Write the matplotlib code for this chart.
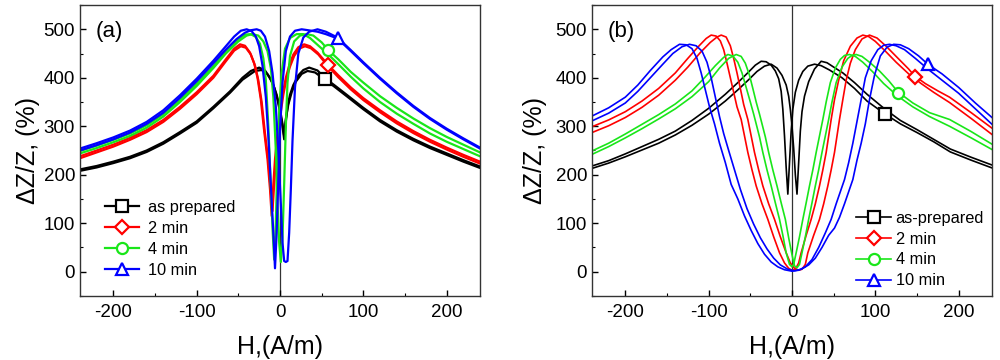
import matplotlib.pyplot as plt
from matplotlib.lines import Line2D
from matplotlib.ticker import MultipleLocator

plt.rcParams['font.family'] = ['Liberation Sans', 'DejaVu Sans']
plt.rcParams['axes.unicode_minus'] = False

# ---- data: (H [A/m], dZ/Z [%]) ----
labels_a = ['as prepared', '2 min', '4 min', '10 min']
labels_b = ['as-prepared', '2 min', '4 min', '10 min']

# panel (a): two sweep branches per annealing time
a_black_1 = [(-240, 211), (-220, 218), (-200, 227), (-180, 237), (-160, 250), (-140, 267), (-120, 288),
             (-100, 310), (-80, 340), (-60, 372), (-45, 400), (-35, 414), (-25, 421), (-18, 415),
             (-12, 400), (-7, 380), (-3, 355), (0, 330), (3, 300), (5, 273), (7, 310), (9, 340),
             (12, 365), (16, 385), (22, 405), (28, 416), (35, 421), (45, 415), (54, 399), (65, 385),
             (80, 365), (100, 338), (120, 313), (140, 292), (160, 274), (180, 258), (200, 244),
             (220, 230), (240, 217)]
a_black_2 = [(-240, 208), (-220, 215), (-200, 224), (-180, 234), (-160, 247), (-140, 264), (-120, 285),
             (-100, 307), (-80, 337), (-60, 369), (-45, 396), (-30, 414), (-22, 416), (-15, 407),
             (-9, 390), (-4, 365), (0, 335), (3, 305), (5, 280), (7, 315), (10, 345), (14, 370),
             (19, 392), (26, 408), (33, 414), (42, 411), (54, 396), (65, 382), (80, 362), (100, 335),
             (120, 310), (140, 289), (160, 271), (180, 255), (200, 241), (220, 227), (240, 214)]
a_red_1 = [(-240, 238), (-220, 250), (-200, 262), (-180, 276), (-160, 292), (-140, 313), (-120, 340),
           (-100, 370), (-80, 404), (-65, 438), (-55, 460), (-48, 469), (-42, 466), (-36, 452),
           (-31, 430), (-27, 400), (-23, 355), (-19, 290), (-15, 232), (-12, 170), (-10, 115),
           (-8, 180), (-6, 232), (-3, 285), (0, 330), (3, 365), (7, 400), (11, 425), (16, 448),
           (22, 463), (29, 469), (36, 465), (45, 452), (57, 428), (70, 405), (85, 380), (100, 358),
           (120, 333), (140, 310), (160, 290), (180, 272), (200, 256), (220, 241), (240, 227)]
a_red_2 = [(-240, 234), (-220, 246), (-200, 258), (-180, 272), (-160, 288), (-140, 309), (-120, 336),
           (-100, 366), (-80, 400), (-65, 434), (-55, 456), (-47, 465), (-41, 462), (-35, 448),
           (-30, 425), (-26, 395), (-22, 350), (-18, 285), (-14, 228), (-11, 165), (-9, 125),
           (-7, 180), (-5, 232), (-2, 285), (1, 330), (4, 365), (8, 400), (12, 423), (17, 445),
           (23, 460), (30, 465), (37, 461), (46, 448), (57, 425), (70, 401), (85, 376), (100, 354),
           (120, 329), (140, 306), (160, 286), (180, 268), (200, 252), (220, 237), (240, 223)]
a_green_1 = [(-240, 249), (-220, 260), (-200, 272), (-180, 285), (-160, 302), (-140, 325), (-120, 355),
             (-100, 388), (-80, 424), (-65, 455), (-52, 477), (-42, 489), (-35, 490), (-29, 484),
             (-24, 470), (-20, 440), (-17, 395), (-14, 300), (-11, 176), (-9, 90), (-7, 25), (-5, 100),
             (-3, 230), (-1, 330), (2, 410), (6, 460), (12, 482), (20, 490), (28, 490), (36, 482),
             (45, 468), (58, 448), (70, 428), (85, 402), (100, 378), (120, 350), (140, 326),
             (160, 305), (180, 285), (200, 268), (220, 253), (240, 238)]
a_green_2 = [(-240, 244), (-220, 255), (-200, 267), (-180, 280), (-160, 297), (-140, 320), (-120, 350),
             (-100, 383), (-80, 420), (-65, 450), (-50, 475), (-40, 487), (-33, 490), (-26, 487),
             (-20, 475), (-15, 455), (-11, 420), (-8, 360), (-5, 250), (-3, 140), (-1, 60), (1, 20),
             (3, 70), (5, 180), (7, 300), (9, 390), (12, 445), (17, 475), (24, 487), (32, 490),
             (40, 487), (50, 473), (58, 457), (70, 438), (85, 412), (100, 390), (120, 362),
             (140, 338), (160, 316), (180, 296), (200, 278), (220, 262), (240, 246)]
a_blue_1 = [(-240, 254), (-220, 265), (-200, 277), (-180, 291), (-160, 309), (-140, 333), (-120, 364),
            (-100, 398), (-80, 435), (-65, 465), (-55, 485), (-47, 497), (-40, 500), (-34, 496),
            (-29, 485), (-25, 465), (-21, 425), (-17, 360), (-14, 280), (-11, 180), (-8, 80), (-6, 7),
            (-4, 80), (-2, 190), (0, 290), (3, 390), (7, 455), (12, 485), (18, 497), (26, 500),
            (34, 498), (45, 495), (55, 490), (69, 481), (85, 455), (100, 430), (120, 398), (140, 368),
            (160, 340), (180, 315), (200, 293), (220, 273), (240, 254)]
a_blue_2 = [(-240, 250), (-220, 261), (-200, 273), (-180, 287), (-160, 305), (-140, 328), (-120, 359),
            (-100, 393), (-80, 430), (-65, 458), (-52, 480), (-42, 493), (-35, 498), (-28, 500),
            (-23, 497), (-18, 485), (-13, 455), (-9, 410), (-5, 340), (-2, 250), (1, 140), (3, 60),
            (5, 22), (7, 20), (9, 22), (11, 80), (13, 170), (15, 270), (18, 380), (22, 450),
            (28, 483), (35, 495), (45, 500), (55, 495), (69, 483), (85, 457), (100, 432), (120, 400),
            (140, 370), (160, 342), (180, 317), (200, 295), (220, 275), (240, 256)]
a_marks = [(54, 397), (57, 427), (58, 457), (69, 483)]

# panel (b)
b_black_1 = [(-240, 218), (-220, 229), (-200, 243), (-180, 258), (-160, 273), (-140, 290), (-120, 312),
             (-100, 337), (-80, 366), (-65, 390), (-52, 412), (-44, 426), (-37, 434), (-31, 433),
             (-25, 426), (-20, 414), (-16, 398), (-13, 372), (-11, 335), (-9, 280), (-7, 215),
             (-5, 160), (-3, 225), (-1, 290), (1, 335), (4, 370), (8, 395), (13, 413), (19, 424),
             (27, 428), (35, 425), (45, 416), (60, 400), (75, 378), (90, 352), (111, 326), (130, 305),
             (150, 287), (170, 268), (190, 247), (215, 230), (240, 214)]
b_black_2 = [(-240, 213), (-220, 224), (-200, 237), (-180, 251), (-160, 265), (-140, 282), (-120, 302),
             (-100, 325), (-80, 352), (-65, 375), (-52, 396), (-42, 413), (-33, 424), (-25, 428),
             (-18, 420), (-12, 405), (-7, 385), (-4, 362), (-2, 335), (0, 300), (2, 255), (4, 200),
             (6, 160), (8, 225), (10, 290), (12, 330), (15, 362), (20, 392), (27, 418), (35, 434),
             (42, 431), (50, 422), (61, 410), (75, 390), (90, 366), (111, 336), (130, 312),
             (150, 293), (170, 273), (190, 253), (215, 236), (240, 220)]
b_red_1 = [(-240, 299), (-220, 313), (-200, 330), (-180, 352), (-160, 378), (-140, 410), (-125, 440),
           (-112, 465), (-103, 481), (-97, 488), (-91, 486), (-86, 476), (-82, 458), (-78, 430),
           (-74, 400), (-70, 370), (-66, 340), (-61, 314), (-57, 280), (-53, 246), (-48, 210),
           (-43, 177), (-36, 140), (-29, 108), (-22, 72), (-15, 39), (-9, 18), (-4, 7), (0, 3), (4, 5),
           (8, 18), (11, 39), (17, 75), (23, 108), (28, 140), (33, 177), (37, 210), (41, 246),
           (44, 280), (47, 314), (51, 355), (56, 395), (62, 435), (70, 465), (78, 482), (85, 488),
           (92, 485), (100, 475), (112, 455), (125, 432), (140, 408), (155, 388), (170, 370),
           (189, 349), (215, 316), (240, 283)]
b_red_2 = [(-240, 287), (-220, 301), (-200, 318), (-180, 339), (-160, 364), (-140, 395), (-125, 422),
           (-110, 452), (-98, 473), (-90, 484), (-85, 488), (-79, 484), (-74, 466), (-70, 440),
           (-66, 410), (-62, 378), (-58, 345), (-53, 314), (-49, 280), (-45, 246), (-40, 210),
           (-35, 177), (-28, 140), (-21, 108), (-14, 72), (-7, 39), (-2, 18), (3, 7), (8, 3), (12, 5),
           (16, 15), (19, 39), (26, 75), (33, 108), (38, 140), (43, 177), (47, 210), (51, 246),
           (54, 280), (57, 314), (61, 355), (65, 395), (70, 430), (76, 458), (84, 480), (93, 488),
           (102, 482), (113, 465), (125, 444), (140, 418), (147, 404), (160, 388), (175, 373),
           (189, 360), (215, 328), (240, 296)]
b_green_1 = [(-240, 249), (-220, 265), (-200, 284), (-180, 304), (-160, 324), (-140, 346), (-120, 373),
             (-105, 400), (-92, 425), (-82, 442), (-77, 448), (-71, 445), (-65, 432), (-60, 410),
             (-55, 380), (-50, 350), (-46, 325), (-43, 305), (-39, 278), (-35, 246), (-30, 210),
             (-25, 177), (-20, 142), (-15, 108), (-11, 75), (-7, 39), (-3, 15), (0, 10), (2, 15),
             (5, 39), (9, 72), (13, 108), (17, 142), (21, 177), (25, 210), (29, 246), (33, 280),
             (37, 314), (41, 350), (46, 390), (52, 420), (58, 438), (63, 446), (69, 448), (76, 444),
             (85, 432), (97, 412), (110, 388), (127, 362), (145, 340), (165, 320), (189, 300),
             (215, 276), (240, 252)]
b_green_2 = [(-240, 242), (-220, 258), (-200, 276), (-180, 295), (-160, 315), (-140, 336), (-120, 361),
             (-100, 392), (-87, 420), (-76, 440), (-67, 448), (-61, 444), (-56, 430), (-51, 405),
             (-47, 378), (-43, 350), (-39, 325), (-36, 305), (-32, 278), (-28, 246), (-23, 210),
             (-18, 177), (-13, 142), (-8, 108), (-4, 70), (0, 35), (3, 12), (6, 8), (9, 15), (12, 39),
             (16, 72), (20, 108), (24, 142), (28, 177), (32, 210), (36, 246), (40, 280), (44, 314),
             (48, 350), (53, 390), (60, 422), (67, 440), (72, 446), (77, 448), (84, 444), (93, 432),
             (105, 414), (116, 394), (127, 371), (145, 348), (165, 328), (189, 314), (215, 289),
             (240, 263)]
b_blue_1 = [(-240, 321), (-220, 338), (-200, 360), (-185, 385), (-170, 415), (-155, 443), (-145, 458),
            (-135, 469), (-127, 468), (-120, 460), (-114, 440), (-109, 410), (-104, 375), (-99, 340),
            (-93, 305), (-87, 265), (-80, 225), (-73, 180), (-65, 150), (-57, 115), (-49, 85),
            (-41, 58), (-33, 36), (-25, 20), (-17, 10), (-9, 4), (0, 1), (8, 3), (16, 10), (24, 25),
            (32, 50), (40, 80), (47, 108), (53, 140), (58, 165), (63, 190), (68, 225), (73, 265),
            (78, 310), (83, 355), (88, 400), (95, 435), (103, 458), (110, 467), (117, 469),
            (125, 466), (135, 458), (148, 440), (163, 418), (180, 395), (200, 368), (220, 336),
            (240, 304)]
b_blue_2 = [(-240, 311), (-220, 327), (-200, 348), (-185, 372), (-170, 400), (-155, 428), (-143, 450),
            (-132, 464), (-123, 469), (-115, 466), (-108, 455), (-102, 432), (-97, 400), (-92, 360),
            (-87, 320), (-82, 285), (-76, 250), (-69, 210), (-62, 170), (-54, 130), (-46, 98),
            (-38, 70), (-30, 47), (-22, 28), (-14, 14), (-5, 5), (3, 2), (11, 5), (20, 14), (28, 28),
            (36, 50), (44, 75), (51, 90), (57, 112), (63, 140), (68, 165), (73, 190), (78, 230),
            (83, 265), (88, 305), (93, 355), (99, 405), (106, 445), (114, 463), (122, 469),
            (130, 468), (140, 460), (152, 445), (163, 428), (180, 408), (200, 380), (220, 348),
            (240, 318)]
b_marks = [(111, 325), (147, 402), (127, 369), (163, 428)]

colors = ['black', '#ff0000', '#19e619', '#0000ff']
markers = ['s', 'D', 'o', '^']
msizes = [8, 7, 8, 8]

fig = plt.figure(figsize=(10, 3.6), dpi=100)
ax_a = fig.add_axes([0.08, 0.178, 0.40, 0.808])
ax_b = fig.add_axes([0.592, 0.178, 0.40, 0.808])

panels = [
    (ax_a, [(a_black_1, a_black_2), (a_red_1, a_red_2), (a_green_1, a_green_2), (a_blue_1, a_blue_2)],
     a_marks, labels_a, '(a)', 1.6),
    (ax_b, [(b_black_1, b_black_2), (b_red_1, b_red_2), (b_green_1, b_green_2), (b_blue_1, b_blue_2)],
     b_marks, labels_b, '(b)', 1.2),
]

for ax, series, marks, labels, tag, lw in panels:
    ax.axvline(0, color='#333333', lw=0.9, zorder=1)
    for (br1, br2), (mh, mz), c, m, ms in zip(series, marks, colors, markers, msizes):
        for br in (br1, br2):
            h, z = zip(*br)
            ax.plot(h, z, color=c, lw=lw, zorder=2, solid_joinstyle='round')
        ax.plot([mh], [mz], ls='none', marker=m, ms=ms, mfc='white', mec=c, mew=1.6, zorder=3)

    ax.set_xlim(-240, 240)
    ax.set_ylim(-50, 550)
    ax.set_xticks([-200, -100, 0, 100, 200])
    ax.set_yticks([0, 100, 200, 300, 400, 500])
    ax.xaxis.set_minor_locator(MultipleLocator(50))
    ax.yaxis.set_minor_locator(MultipleLocator(50))
    ax.tick_params(which='both', direction='in', top=False, right=False, labelsize=13.5)
    ax.tick_params(which='major', length=4, width=1)
    ax.tick_params(which='minor', length=2.5, width=0.8)
    ax.tick_params(axis='x', pad=6)
    for sp in ax.spines.values():
        sp.set_linewidth(1.0)
        sp.set_color('#333333')
    ax.set_xlabel('H,(A/m)', fontsize=18)
    ax.set_ylabel('ΔZ/Z, (%)', fontsize=18)
    ax.xaxis.set_label_coords(0.5, -0.135)
    ax.text(0.04, 0.91, tag, transform=ax.transAxes, fontsize=16, va='center', ha='left')

    handles = [Line2D([], [], color=c, lw=lw, marker=m, ms=ms, mfc='white', mec=c, mew=1.6)
               for c, m, ms in zip(colors, markers, msizes)]
    if tag == '(a)':
        ax.legend(handles, labels, loc='upper left', bbox_to_anchor=(0.0625, 0.33), frameon=False,
                  fontsize=11.8, handlelength=2.1, labelspacing=0.36, handletextpad=0.5,
                  borderaxespad=0, borderpad=0)
    else:
        ax.legend(handles, labels, loc='upper right', bbox_to_anchor=(0.98, 0.293), frameon=False,
                  fontsize=11.8, handlelength=2.1, labelspacing=0.36, handletextpad=0.3,
                  borderaxespad=0, borderpad=0)

ax_a.yaxis.set_label_coords(-0.10, 0.5)
ax_b.yaxis.set_label_coords(-0.1125, 0.5)

fig.savefig('out.png', dpi=100)
